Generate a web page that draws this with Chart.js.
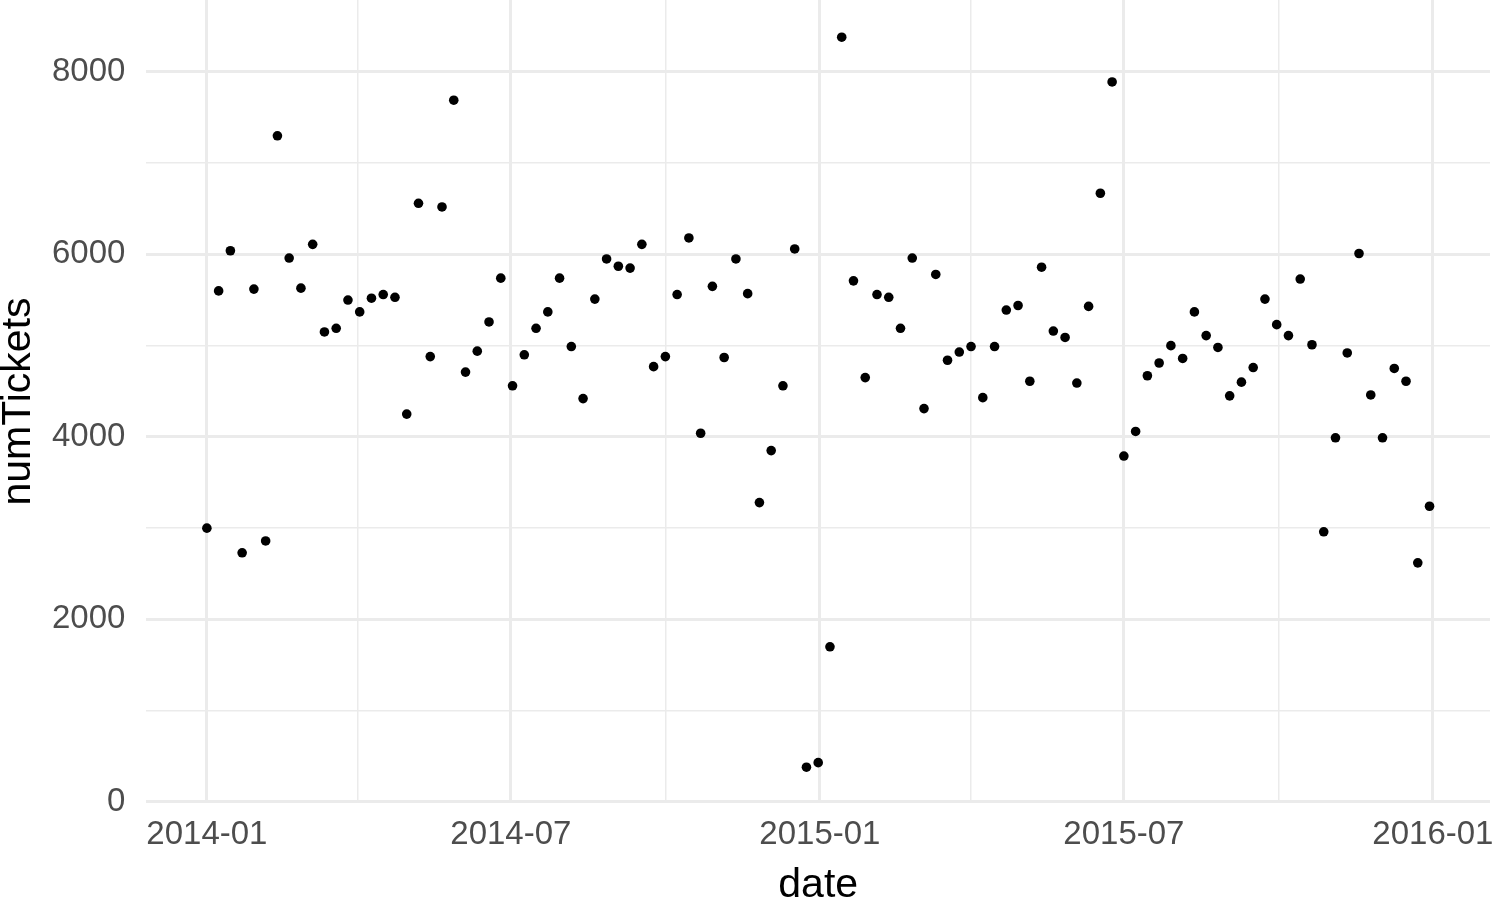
<!DOCTYPE html>
<html>
<head>
<meta charset="utf-8">
<script src="https://cdn.jsdelivr.net/npm/chart.js@4"></script>
<style>
  html, body { margin: 0; padding: 0; background: #fff; }
  canvas { display: block; }
</style>
</head>
<body>
<canvas id="ticketsChart" width="1492" height="898"></canvas>
<script>
const weekDates = [
  '2014-01-01', '2014-01-08', '2014-01-15', '2014-01-22', '2014-01-29',
  '2014-02-05', '2014-02-12', '2014-02-19', '2014-02-26',
  '2014-03-05', '2014-03-12', '2014-03-19', '2014-03-26',
  '2014-04-02', '2014-04-09', '2014-04-16', '2014-04-23', '2014-04-30',
  '2014-05-07', '2014-05-14', '2014-05-21', '2014-05-28',
  '2014-06-04', '2014-06-11', '2014-06-18', '2014-06-25',
  '2014-07-02', '2014-07-09', '2014-07-16', '2014-07-23', '2014-07-30',
  '2014-08-06', '2014-08-13', '2014-08-20', '2014-08-27',
  '2014-09-03', '2014-09-10', '2014-09-17', '2014-09-24',
  '2014-10-01', '2014-10-08', '2014-10-15', '2014-10-22', '2014-10-29',
  '2014-11-05', '2014-11-12', '2014-11-19', '2014-11-26',
  '2014-12-03', '2014-12-10', '2014-12-17', '2014-12-24', '2014-12-31',
  '2015-01-07', '2015-01-14', '2015-01-21', '2015-01-28',
  '2015-02-04', '2015-02-11', '2015-02-18', '2015-02-25',
  '2015-03-04', '2015-03-11', '2015-03-18', '2015-03-25',
  '2015-04-01', '2015-04-08', '2015-04-15', '2015-04-22', '2015-04-29',
  '2015-05-06', '2015-05-13', '2015-05-20', '2015-05-27',
  '2015-06-03', '2015-06-10', '2015-06-17', '2015-06-24',
  '2015-07-01', '2015-07-08', '2015-07-15', '2015-07-22', '2015-07-29',
  '2015-08-05', '2015-08-12', '2015-08-19', '2015-08-26',
  '2015-09-02', '2015-09-09', '2015-09-16', '2015-09-23', '2015-09-30',
  '2015-10-07', '2015-10-14', '2015-10-21', '2015-10-28',
  '2015-11-04', '2015-11-11', '2015-11-18', '2015-11-25',
  '2015-12-02', '2015-12-09', '2015-12-16', '2015-12-23', '2015-12-30'
];

const numTickets = [
  3000, 5600, 6040, 2730, 5620, 2860, 7300, 5960, 5630, 6110,
  5150, 5190, 5500, 5370, 5520, 5560, 5530, 4250, 6560, 4880,
  6520, 7690, 4710, 4940, 5260, 5740, 4560, 4900, 5190, 5370,
  5740, 4990, 4420, 5510, 5950, 5870, 5850, 6110, 4770, 4880,
  5560, 6180, 4040, 5650, 4870, 5950, 5570, 3280, 3850, 4560,
  6060, 380, 430, 1700, 8380, 5710, 4650, 5560, 5530, 5190,
  5960, 4310, 5780, 4840, 4930, 4990, 4430, 4990, 5390, 5440,
  4610, 5860, 5160, 5090, 4590, 5430, 6670, 7890, 3790, 4060,
  4670, 4810, 5000, 4860, 5370, 5110, 4980, 4450, 4600, 4760,
  5510, 5230, 5110, 5730, 5010, 2960, 3990, 4920, 6010, 4460,
  3990, 4750, 4610, 2620, 3240
];

const xMajorTicks = ['2014-01-01', '2014-07-01', '2015-01-01', '2015-07-01', '2016-01-01'];
const xMinorTicks = ['2014-04-01', '2014-10-01', '2015-04-01', '2015-10-01'];
const yMajorTicks = [0, 2000, 4000, 6000, 8000];
const yMinorTicks = [1000, 3000, 5000, 7000];
const xLimits = ['2013-11-26', '2016-02-04'];
const yLimits = [-12, 8788];

const FONT = '"Liberation Sans", Arial, sans-serif';
const GRID = '#EBEBEB';

const toTime = s => Date.parse(s + 'T00:00:00Z');
const majorX = new Set(xMajorTicks.map(toTime));
const majorY = new Set(yMajorTicks);

function monthLabel(t) {
  const d = new Date(t);
  return d.getUTCFullYear() + '-' + String(d.getUTCMonth() + 1).padStart(2, '0');
}

// ggplot panels don't reserve room for labels at the edges
function dropEdgePadding(scale) {
  scale.paddingTop = 0;
  scale.paddingBottom = 0;
  scale.paddingLeft = 0;
  scale.paddingRight = 0;
}

const points = weekDates.map((d, i) => ({ x: toTime(d), y: numTickets[i] }));

new Chart(document.getElementById('ticketsChart'), {
  type: 'scatter',
  data: {
    datasets: [{
      label: 'numTickets',
      data: points,
      backgroundColor: '#000',
      borderWidth: 0,
      pointRadius: 4.8
    }]
  },
  options: {
    responsive: false,
    animation: false,
    layout: { autoPadding: false, padding: { left: 0, right: 2, top: 0, bottom: 0 } },
    plugins: { legend: { display: false }, tooltip: { enabled: false } },
    scales: {
      x: {
        type: 'linear',
        min: toTime(xLimits[0]),
        max: toTime(xLimits[1]),
        border: { display: false },
        grid: {
          color: GRID,
          drawTicks: false,
          lineWidth: ctx => majorX.has(ctx.tick.value) ? 3 : 1.5
        },
        afterBuildTicks: scale => {
          scale.ticks = xMajorTicks.concat(xMinorTicks).map(toTime).sort((a, b) => a - b).map(v => ({ value: v }));
        },
        afterFit: dropEdgePadding,
        ticks: {
          autoSkip: false,
          maxRotation: 0,
          padding: 15,
          color: '#4D4D4D',
          font: { family: FONT, size: 33, lineHeight: 1 },
          callback: v => majorX.has(v) ? monthLabel(v) : ''
        },
        title: {
          display: true,
          text: 'date',
          color: '#000',
          font: { family: FONT, size: 41, lineHeight: '24px' },
          padding: { top: 8, bottom: 0 }
        }
      },
      y: {
        min: yLimits[0],
        max: yLimits[1],
        border: { display: false },
        grid: {
          color: GRID,
          drawTicks: false,
          lineWidth: ctx => majorY.has(ctx.tick.value) ? 3 : 1.5
        },
        afterBuildTicks: scale => {
          scale.ticks = yMajorTicks.concat(yMinorTicks).sort((a, b) => a - b).map(v => ({ value: v }));
        },
        afterFit: dropEdgePadding,
        ticks: {
          padding: 21,
          color: '#4D4D4D',
          font: { family: FONT, size: 33, lineHeight: 1 },
          callback: v => majorY.has(v) ? String(v) : ''
        },
        title: {
          display: true,
          text: 'numTickets',
          color: '#000',
          font: { family: FONT, size: 41, lineHeight: '24px' },
          padding: { top: 7, bottom: 0 }
        }
      }
    }
  }
});
</script>
</body>
</html>
